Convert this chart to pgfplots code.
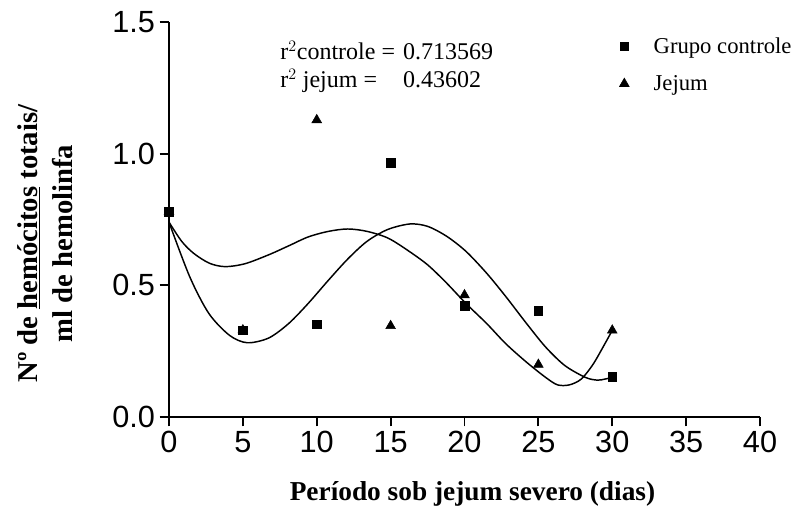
\documentclass[border=0pt]{standalone}
\usepackage{fontspec}
\setmainfont{Liberation Serif}
\newfontfamily\arialfont{Liberation Sans}
\usepackage{pgfplots}
\pgfplotsset{compat=1.18}

\begin{document}
\begin{tikzpicture}
\path[use as bounding box] (0,0) rectangle (594pt,380.25pt);
\begin{axis}[
    at={(126.75pt,67.5pt)}, anchor=south west,
    scale only axis, width=443.25pt, height=296.25pt,
    xmin=0, xmax=40, ymin=0, ymax=1.5,
    enlargelimits=false, clip=false,
    axis lines*=left,
    axis line style={line width=1.4pt},
    xtick={0,5,...,40}, ytick={0,0.5,1,1.5},
    tick align=outside, major tick length=7pt,
    tick style={line width=1.4pt, black},
    /pgf/number format/assume math mode=true,
    tick label style={font=\arialfont\fontsize{23}{23}\selectfont},
    yticklabel style={/pgf/number format/.cd, fixed, fixed zerofill, precision=1},
    xlabel={\bfseries Período sob jejum severo (dias)},
    xlabel style={font=\fontsize{20.5}{22}\selectfont, yshift=-15pt, xshift=6pt},
    ylabel={\bfseries Nº de \underline{hemócitos} totais/\\ \bfseries ml de hemolinfa},
    ylabel style={font=\fontsize{21.5}{26}\selectfont, align=center, yshift=23pt, xshift=-18pt},
    legend style={at={(0.755,0.975)}, anchor=north west, draw=none, fill=none,
        font=\fontsize{17}{17}\selectfont, row sep=11pt},
    legend cell align=left,
    legend image code/.code={\draw[#1] plot coordinates {(0pt,0pt)};
        \path[draw=none, fill=none] (-2pt,0pt) rectangle (20pt,0pt);},
]
% ajustes polinomiais
\addplot[black, line width=1.1pt, smooth, forget plot] coordinates {
 (0,0.74) (1.4,0.533) (2.7,0.393) (4.1,0.31) (5.3,0.282) (6.75,0.30)
 (8.1,0.355) (9.4,0.43) (10.8,0.52) (12.1,0.60) (13.4,0.667) (14.8,0.712)
 (16.3,0.733) (17.5,0.724) (18.8,0.686) (20.1,0.629) (21.5,0.546)
 (22.8,0.457) (24.2,0.355) (25.5,0.265) (26.8,0.195) (28.2,0.15)
 (29,0.14) (29.5,0.144) (30,0.15)};
\addplot[black, line width=1.1pt, smooth, forget plot] coordinates {
 (0,0.74) (0.86,0.667) (1.66,0.622) (2.73,0.584) (3.8,0.571) (5.14,0.582)
 (6.75,0.616) (8.1,0.65) (9.43,0.684) (10.8,0.705) (12.1,0.714) (13.4,0.705)
 (14.8,0.68) (16.1,0.635) (17.5,0.578) (18.8,0.508) (20.1,0.431)
 (21.5,0.355) (22.8,0.278) (24.2,0.208) (25.5,0.15) (26.3,0.122)
 (27.1,0.122) (27.9,0.144) (28.7,0.20) (29.5,0.278) (30,0.329)};
% Grupo controle
\addplot[only marks, mark=square*, mark size=3.2pt, black] coordinates {
 (0,0.78) (5,0.33) (10,0.353) (15,0.965) (20,0.423) (25,0.403) (30,0.153)};
% Jejum
\addplot[only marks, mark=triangle*, mark size=4.2pt, black] coordinates {
 (0,0.78) (5,0.33) (10,1.128) (15,0.346) (20,0.463) (25,0.199) (30,0.329)};
\legend{Grupo controle, Jejum}
\node[anchor=north west, inner sep=0pt, font=\fontsize{18}{21}\selectfont]
  at (rel axis cs:0.188,0.955) {%
  \begin{tabular}{@{}l@{\hspace{6pt}}l@{}}
  r$^{2}$controle = & 0.713569\\
  r$^{2}$ jejum = & 0.43602
  \end{tabular}};
\end{axis}
\end{tikzpicture}
\end{document}
